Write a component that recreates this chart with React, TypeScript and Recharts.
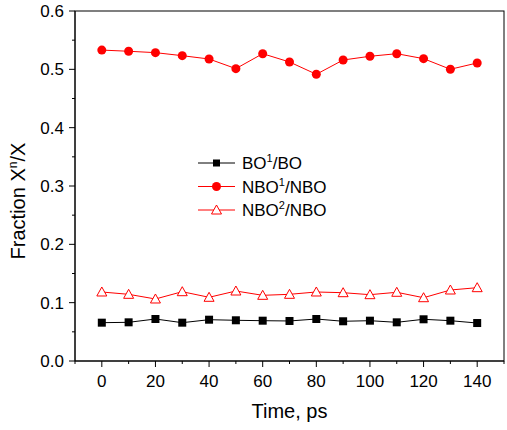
import React from 'react';
import { LineChart, Line, XAxis, YAxis } from 'recharts';

// Simulation time (ps)
const times = [0, 10, 20, 30, 40, 50, 60, 70, 80, 90, 100, 110, 120, 130, 140];

// Fraction of each species
const bo1 = [0.0657, 0.0663, 0.072, 0.0657, 0.0708, 0.0698, 0.0691, 0.0686, 0.072, 0.0681, 0.0691, 0.0663, 0.0715, 0.0691, 0.0651];
const nbo1 = [0.533, 0.531, 0.5286, 0.5234, 0.5177, 0.5012, 0.5268, 0.5126, 0.4915, 0.516, 0.5224, 0.5268, 0.5183, 0.5001, 0.5109];
const nbo2 = [0.1183, 0.1143, 0.1063, 0.1188, 0.1092, 0.12, 0.1126, 0.1143, 0.1183, 0.1171, 0.1137, 0.1178, 0.1085, 0.1217, 0.1257];

// Axis ticks (majors carry labels, the rest are minor)
const xTicks = [-10, 0, 10, 20, 30, 40, 50, 60, 70, 80, 90, 100, 110, 120, 130, 140, 150];
const xMajor = [0, 20, 40, 60, 80, 100, 120, 140];
const yTicks = [0, 0.05, 0.1, 0.15, 0.2, 0.25, 0.3, 0.35, 0.4, 0.45, 0.5, 0.55, 0.6];
const yMajor = [0, 0.1, 0.2, 0.3, 0.4, 0.5, 0.6];
const xDomain = [-10, 150];
const yDomain = [0, 0.6];

const data = times.map((t, i) => ({ t, bo1: bo1[i], nbo1: nbo1[i], nbo2: nbo2[i] }));

const W = 507;
const H = 430;
const MARGIN = { top: 11, right: 3, bottom: 0, left: 0 };
const Y_AXIS_W = 75;
const X_AXIS_H = 69;

const FONT = '"Liberation Sans", Arial, sans-serif';
const RED = '#ff0000';

const isMajorX = (v: number) => xMajor.some((m) => Math.abs(m - v) < 1e-9);
const isMajorY = (v: number) => yMajor.some((m) => Math.abs(m - v) < 1e-9);

const XTick = (props: any) => {
  const { x, y, payload } = props;
  const major = isMajorX(payload.value);
  return (
    <g>
      <line x1={x} y1={y} x2={x} y2={y + (major ? 6 : 3)} stroke="#000" strokeWidth={1} />
      {major && (
        <text x={x} y={y + 26} textAnchor="middle" fontSize={17} fontFamily={FONT} fill="#000">
          {payload.value}
        </text>
      )}
    </g>
  );
};

const YTick = (props: any) => {
  const { x, y, payload } = props;
  const major = isMajorY(payload.value);
  return (
    <g>
      <line x1={x - (major ? 6 : 3)} y1={y} x2={x} y2={y} stroke="#000" strokeWidth={1} />
      {major && (
        <text x={x - 11} y={y + 6} textAnchor="end" fontSize={17} fontFamily={FONT} fill="#000">
          {payload.value.toFixed(1)}
        </text>
      )}
    </g>
  );
};

const SquareDot = (props: any) => {
  const { cx, cy, index } = props;
  if (cx == null || cy == null) return null;
  return <rect key={`s${index}`} x={cx - 4} y={cy - 4} width={8} height={8} fill="#000" />;
};

const CircleDot = (props: any) => {
  const { cx, cy, index } = props;
  if (cx == null || cy == null) return null;
  return <circle key={`c${index}`} cx={cx} cy={cy} r={4.5} fill={RED} />;
};

const TriangleDot = (props: any) => {
  const { cx, cy, index } = props;
  if (cx == null || cy == null) return null;
  const pts = `${cx},${cy - 5} ${cx - 5},${cy + 4} ${cx + 5},${cy + 4}`;
  return <polygon key={`t${index}`} points={pts} fill="#fff" stroke={RED} strokeWidth={1} />;
};

const legendItems = [
  { base: 'BO', sup: '1', rest: '/BO', color: '#000', marker: 'square' },
  { base: 'NBO', sup: '1', rest: '/NBO', color: RED, marker: 'circle' },
  { base: 'NBO', sup: '2', rest: '/NBO', color: RED, marker: 'triangle' },
];

// Plot box derived from the chart layout settings
const plotX = MARGIN.left + Y_AXIS_W;
const plotY = MARGIN.top;
const plotW = W - MARGIN.right - plotX;
const plotH = H - MARGIN.bottom - X_AXIS_H - plotY;

// Frame, legend block and axis titles, laid over the chart
const Overlay = () => (
  <svg width={W} height={H} style={{ position: 'absolute', left: 0, top: 0, pointerEvents: 'none' }}>
    <rect x={plotX} y={plotY} width={plotW} height={plotH} fill="none" stroke="#000" strokeWidth={1} />
    <g transform="translate(190,150)">
      {legendItems.map((it, i) => {
        const cy = 13 + i * 23.5;
        const mx = 26.5;
        return (
          <g key={i}>
            <line x1={8} y1={cy} x2={45} y2={cy} stroke={it.color} strokeWidth={1} />
            {it.marker === 'square' && <rect x={mx - 3.5} y={cy - 3.5} width={7} height={7} fill="#000" />}
            {it.marker === 'circle' && <circle cx={mx} cy={cy} r={4.5} fill={RED} />}
            {it.marker === 'triangle' && (
              <polygon points={`${mx},${cy - 5} ${mx - 5},${cy + 4} ${mx + 5},${cy + 4}`} fill="#fff" stroke={RED} strokeWidth={1} />
            )}
            <text x={52} y={cy + 6} fontSize={17} fontFamily={FONT} fill="#000">
              {it.base}
              <tspan fontSize={11} dy={-7}>{it.sup}</tspan>
              <tspan dy={7}>{it.rest}</tspan>
            </text>
          </g>
        );
      })}
    </g>
    <text x={plotX + plotW / 2} y={418} textAnchor="middle" fontSize={20} fontFamily={FONT} fill="#000">
      Time, ps
    </text>
    <text x={25} y={201} transform="rotate(-90 25 201)" textAnchor="middle" fontSize={20} fontFamily={FONT} fill="#000">
      Fraction X
      <tspan fontSize={12} dy={-8}>n</tspan>
      <tspan dy={8}>/X</tspan>
    </text>
  </svg>
);

export default function App() {
  return (
    <div style={{ position: 'absolute', left: 0, top: 0, width: W, height: H, background: '#fff' }}>
      <LineChart width={W} height={H} data={data} margin={MARGIN}>
        <XAxis
          dataKey="t"
          type="number"
          domain={xDomain}
          ticks={xTicks}
          interval={0}
          tickSize={0}
          tickMargin={0}
          tickLine={false}
          tick={<XTick />}
          axisLine={{ stroke: '#000', strokeWidth: 1 }}
          height={X_AXIS_H}
        />
        <YAxis
          type="number"
          domain={yDomain}
          ticks={yTicks}
          interval={0}
          tickSize={0}
          tickMargin={0}
          tickLine={false}
          tick={<YTick />}
          axisLine={{ stroke: '#000', strokeWidth: 1 }}
          width={Y_AXIS_W}
        />
        <Line dataKey="bo1" stroke="#000" strokeWidth={1} dot={<SquareDot />} activeDot={false} isAnimationActive={false} />
        <Line dataKey="nbo1" stroke={RED} strokeWidth={1} dot={<CircleDot />} activeDot={false} isAnimationActive={false} />
        <Line dataKey="nbo2" stroke={RED} strokeWidth={1} dot={<TriangleDot />} activeDot={false} isAnimationActive={false} />
      </LineChart>
      <Overlay />
    </div>
  );
}
